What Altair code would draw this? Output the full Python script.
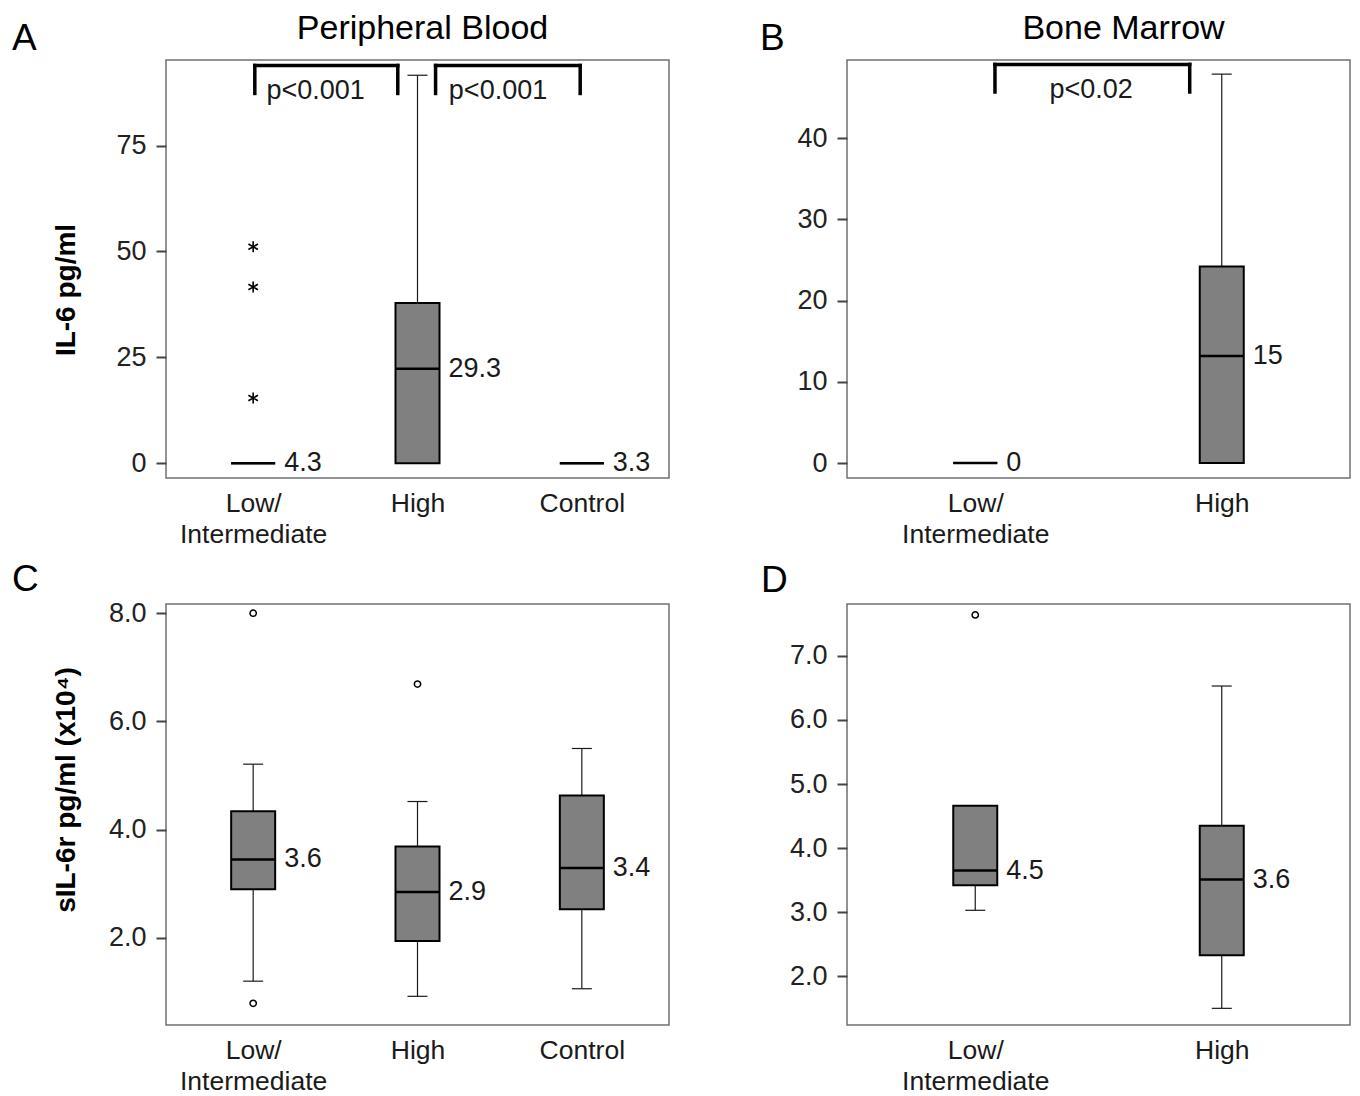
import json
import altair as alt
import pandas as pd

FONT = "Liberation Sans"

# ---------------- Panel A : IL-6, peripheral blood ----------------
A_cats = ["Low/\nIntermediate", "High", "Control"]
A_lo = [0, 0, 0]
A_q1 = [0, 0, 0]
A_med = [0, 22.3, 0]
A_q3 = [0, 37.8, 0]
A_hi = [0, 91.6, 0]
A_labels = ["4.3", "29.3", "3.3"]
A_out_idx = [0, 0, 0]
A_out_val = [51.1, 41.6, 15.4]
A_br_from = [0.51, 1.61]
A_br_to = [1.38, 2.49]
A_br_top = [93.9, 93.9]
A_br_bot = [87.3, 87.3]
A_br_text = ["p<0.001", "p<0.001"]
A_br_tx = [0.88, 1.99]
A_br_ty = [86.1, 86.1]

# ---------------- Panel B : IL-6, bone marrow ----------------
B_cats = ["Low/\nIntermediate", "High"]
B_lo = [0, 0]
B_q1 = [0, 0]
B_med = [0, 13.2]
B_q3 = [0, 24.2]
B_hi = [0, 47.9]
B_labels = ["0", "15"]
B_out_idx = []
B_out_val = []
B_br_from = [0.58]
B_br_to = [1.37]
B_br_top = [49.1]
B_br_bot = [45.7]
B_br_text = ["p<0.02"]
B_br_tx = [0.97]
B_br_ty = [45.0]

# ---------------- Panel C : sIL-6r, peripheral blood ----------------
C_cats = ["Low/\nIntermediate", "High", "Control"]
C_lo = [1.20, 0.92, 1.06]
C_q1 = [2.90, 1.94, 2.53]
C_med = [3.45, 2.85, 3.29]
C_q3 = [4.34, 3.69, 4.63]
C_hi = [5.21, 4.52, 5.50]
C_labels = ["3.6", "2.9", "3.4"]
C_out_idx = [0, 0, 1]
C_out_val = [8.0, 0.79, 6.69]

# ---------------- Panel D : sIL-6r, bone marrow ----------------
D_cats = ["Low/\nIntermediate", "High"]
D_lo = [3.03, 1.50]
D_q1 = [3.42, 2.33]
D_med = [3.65, 3.51]
D_q3 = [4.66, 4.35]
D_hi = [4.66, 6.53]
D_labels = ["4.5", "3.6"]
D_out_idx = [0]
D_out_val = [7.64]

STAR = "M0,-1L0,1M-0.87,-0.5L0.87,0.5M-0.87,0.5L0.87,-0.5"
W = 503


def panel(cats, lo, q1, med, q3, hi, labels, out_idx, out_val, out_kind,
          ydom, yvals, yfmt, h, letter, letter_xy, title, title_dx,
          ytitle=None, ytitle_xy=None, brackets=None, anchor=None):
    n = len(cats)
    xs = alt.Scale(domain=[0, n], nice=False, zero=False)
    ys = alt.Scale(domain=ydom, nice=False, zero=False)
    label_expr = "split(" + json.dumps(cats) + "[floor(datum.value)], '\\n')"
    xax = alt.Axis(values=[i + 0.5 for i in range(n)], labelExpr=label_expr,
                   ticks=False, tickSize=0, domain=False, grid=False,
                   labelFontSize=26.5, labelFont=FONT, labelColor="#1a1a1a",
                   labelPadding=12, labelLineHeight=31, labelFlush=False,
                   labelOverlap=False, labelBound=False, labelAngle=0)
    yax = alt.Axis(values=yvals, format=yfmt, tickSize=10, tickWidth=2,
                   tickColor="#444444", domain=False, grid=False,
                   labelFontSize=27, labelFont=FONT, labelColor="#222222",
                   labelPadding=10, labelOverlap=False, labelFlush=False)

    def X(f):
        return alt.X(f, type="quantitative", scale=xs, axis=xax, title=None)

    def Y(f):
        return alt.Y(f, type="quantitative", scale=ys, axis=yax, title=None)

    box_df = pd.DataFrame({
        "pos": [i + 0.5 for i in range(n)],
        "lo": lo, "q1": q1, "med": med, "q3": q3, "hi": hi, "label": labels,
    })
    base = alt.Chart(box_df)
    layers = [
        base.mark_rule(color="#1a1a1a", strokeWidth=1.2).encode(
            x=X("pos"), y=Y("lo"), y2=alt.Y2("q1")),
        base.mark_rule(color="#1a1a1a", strokeWidth=1.2).encode(
            x=X("pos"), y=Y("q3"), y2=alt.Y2("hi")),
        base.mark_tick(orient="horizontal", size=20, thickness=1.2,
                       color="#1a1a1a", opacity=1).encode(x=X("pos"), y=Y("lo")),
        base.mark_tick(orient="horizontal", size=20, thickness=1.2,
                       color="#1a1a1a", opacity=1).encode(x=X("pos"), y=Y("hi")),
        base.mark_bar(size=44, color="#808080", stroke="black", strokeWidth=2,
                      opacity=1).encode(x=X("pos"), y=Y("q1"), y2=alt.Y2("q3")),
        base.mark_tick(orient="horizontal", size=44, thickness=2.5,
                       color="black", opacity=1).encode(x=X("pos"), y=Y("med")),
        base.mark_text(align="left", baseline="middle", dx=31, fontSize=27,
                       font=FONT, color="#1a1a1a").encode(
            x=X("pos"), y=Y("med"), text="label:N"),
    ]
    if out_val:
        out_df = pd.DataFrame({"pos": [i + 0.5 for i in out_idx], "val": out_val})
        if out_kind == "star":
            m = alt.Chart(out_df).mark_point(shape=STAR, size=120, filled=False,
                                             stroke="black", strokeWidth=1.6, opacity=1)
        else:
            m = alt.Chart(out_df).mark_point(shape="circle", size=40, filled=False,
                                             stroke="black", strokeWidth=1.5, opacity=1)
        layers.append(m.encode(x=X("pos"), y=Y("val")))
    if brackets:
        bdf = pd.DataFrame(brackets)
        bb = alt.Chart(bdf)
        kw = dict(strokeWidth=3.5, color="black", strokeCap="square")
        layers += [
            bb.mark_rule(**kw).encode(x=X("x0"), x2=alt.X2("x1"), y=Y("top")),
            bb.mark_rule(**kw).encode(x=X("x0"), y=Y("top"), y2=alt.Y2("bot")),
            bb.mark_rule(**kw).encode(x=X("x1"), y=Y("top"), y2=alt.Y2("bot")),
            bb.mark_text(align="center", baseline="alphabetic", fontSize=27,
                         font=FONT, color="#1a1a1a").encode(
                x=X("tx"), y=Y("ty"), text="text:N"),
        ]
    # panel letter
    layers.append(alt.Chart(pd.DataFrame({"t": [letter]})).mark_text(
        align="left", baseline="alphabetic", fontSize=37, font=FONT, color="black"
    ).encode(x=alt.value(letter_xy[0]), y=alt.value(letter_xy[1]), text="t:N"))
    if title:
        layers.append(alt.Chart(pd.DataFrame({"t": [title]})).mark_text(
            align="center", baseline="alphabetic", fontSize=34, font=FONT, color="black"
        ).encode(x=alt.value(W / 2 + title_dx), y=alt.value(-21), text="t:N"))
    if ytitle:
        layers.append(alt.Chart(pd.DataFrame({"t": [ytitle]})).mark_text(
            align="center", baseline="middle", angle=270, fontSize=28,
            fontWeight="bold", font=FONT, color="black"
        ).encode(x=alt.value(ytitle_xy[0]), y=alt.value(ytitle_xy[1]), text="t:N"))
    if anchor:
        layers.append(alt.Chart(pd.DataFrame({"t": [""]})).mark_point(
            size=1, filled=True, opacity=0
        ).encode(x=alt.value(anchor[0]), y=alt.value(anchor[1])))
    return alt.layer(*layers).properties(width=W, height=h)


pA = panel(A_cats, A_lo, A_q1, A_med, A_q3, A_hi, A_labels, A_out_idx, A_out_val, "star",
           [-3.5, 95.2], [0, 25, 50, 75], "d", 418, "A", (-154, -10),
           "Peripheral Blood", 5, "IL-6 pg/ml", (-99, 230),
           brackets={"x0": A_br_from, "x1": A_br_to, "top": A_br_top, "bot": A_br_bot,
                     "text": A_br_text, "tx": A_br_tx, "ty": A_br_ty},
           anchor=(-156, -50))
pB = panel(B_cats, B_lo, B_q1, B_med, B_q3, B_hi, B_labels, B_out_idx, B_out_val, "star",
           [-1.84, 49.64], [0, 10, 20, 30, 40], "d", 418, "B", (-87, -10),
           "Bone Marrow", 25,
           brackets={"x0": B_br_from, "x1": B_br_to, "top": B_br_top, "bot": B_br_bot,
                     "text": B_br_text, "tx": B_br_tx, "ty": B_br_ty})
pC = panel(C_cats, C_lo, C_q1, C_med, C_q3, C_hi, C_labels, C_out_idx, C_out_val, "circle",
           [0.39, 8.17], [2, 4, 6, 8], ".1f", 421, "C", (-154, -13),
           None, 0, "sIL-6r pg/ml (x10\u2074)", (-99, 186))
pD = panel(D_cats, D_lo, D_q1, D_med, D_q3, D_hi, D_labels, D_out_idx, D_out_val, "circle",
           [1.24, 7.81], [2, 3, 4, 5, 6, 7], ".1f", 421, "D", (-86, -12),
           None, 0)

chart = alt.concat(
    pA, pB, pC, pD, columns=2,
    spacing={"row": 126, "column": 178}, bounds="flush", align="each",
).properties(padding=0).configure_view(stroke="#707070", strokeWidth=1.5)

chart.save("out.html", embed_options={"renderer": "svg", "actions": False})
